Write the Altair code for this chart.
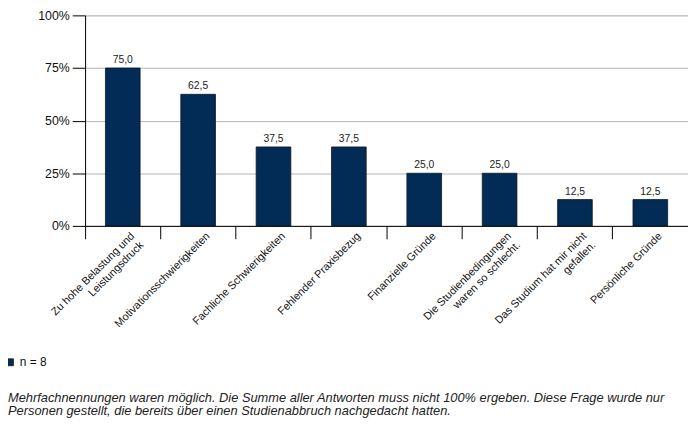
import altair as alt
import pandas as pd

categories = [
    "Zu hohe Belastung und|Leistungsdruck",
    "Motivationsschwierigkeiten",
    "Fachliche Schwierigkeiten",
    "Fehlender Praxisbezug",
    "Finanzielle Gründe",
    "Die Studienbedingungen|waren so schlecht.",
    "Das Studium hat mir nicht|gefallen.",
    "Persönliche Gründe",
]
values = [75.0, 62.5, 37.5, 37.5, 25.0, 25.0, 12.5, 12.5]
series = ["n = 8"] * len(categories)
y_ticks = [0, 25, 50, 75, 100]
footer = [
    "Mehrfachnennungen waren möglich. Die Summe aller Antworten muss nicht 100% ergeben. Diese Frage wurde nur",
    "Personen gestellt, die bereits über einen Studienabbruch nachgedacht hatten.",
]

df = pd.DataFrame({"cat": categories, "value": values, "series": series})

NAVY = "#022b55"
FONT = "Liberation Sans"

x_enc = alt.X(
    "cat:N",
    sort=None,
    scale=alt.Scale(paddingInner=0, paddingOuter=0),
    axis=alt.Axis(
        title=None,
        bandPosition=0,
        labelExpr="split(datum.label, '|')",
        labelAngle=315,
        labelAlign="right",
        labelBaseline="top",
        labelOffset=6,
        labelPadding=-9,
        labelFontSize=11,
        labelLineHeight=13,
        labelColor="#111",
        labelFont=FONT,
        labelOverlap=False,
        tickSize=13,
        tickColor="black",
        domainColor="black",
        grid=False,
    ),
)

y_enc = alt.Y(
    "value:Q",
    scale=alt.Scale(domain=[0, 100]),
    axis=alt.Axis(
        title=None,
        values=y_ticks,
        labelExpr="datum.value + '%'",
        tickSize=13,
        tickColor="black",
        domainColor="black",
        gridColor="#b3b3b3",
        labelFontSize=12.5,
        labelColor="#111",
        labelFont=FONT,
        labelPadding=3,
    ),
)

bars = alt.Chart(df).mark_bar(
    width=alt.RelativeBandSize(0.46),
    stroke="#101820",
    strokeWidth=0.8,
).encode(
    x=x_enc,
    y=y_enc,
    color=alt.Color(
        "series:N",
        scale=alt.Scale(range=[NAVY]),
        legend=alt.Legend(
            title=None,
            orient="none",
            legendX=-82,
            legendY=345,
            symbolType="square",
            symbolSize=49,
            symbolStrokeColor="#101820",
            symbolStrokeWidth=0.8,
            labelFontSize=12,
            labelFont=FONT,
            labelColor="#111",
            padding=0,
        ),
    ),
)

labels = alt.Chart(df).mark_text(
    baseline="alphabetic", dy=-5, fontSize=10.5, font=FONT, color="#222"
).encode(
    x=alt.X("cat:N", sort=None),
    y=alt.Y("value:Q"),
    text=alt.Text("label:N"),
).transform_calculate(
    label="replace(format(datum.value, '.1f'), '.', ',')"
)

chart = alt.layer(bars, labels).properties(
    width=610,
    height=213,
    autosize=alt.AutoSizeParams(type="none"),
    padding={"left": 78, "top": 5, "right": 0, "bottom": 200},
    title=alt.TitleParams(
        text=footer,
        orient="bottom",
        anchor="start",
        frame="group",
        dx=-78,
        offset=24,
        font=FONT,
        fontSize=13,
        fontStyle="italic",
        fontWeight="normal",
        color="#222",
        lineHeight=13.5,
    ),
).configure_view(stroke=None).configure(background="white")

chart.save("out.html", embed_options={"renderer": "svg", "actions": False})
